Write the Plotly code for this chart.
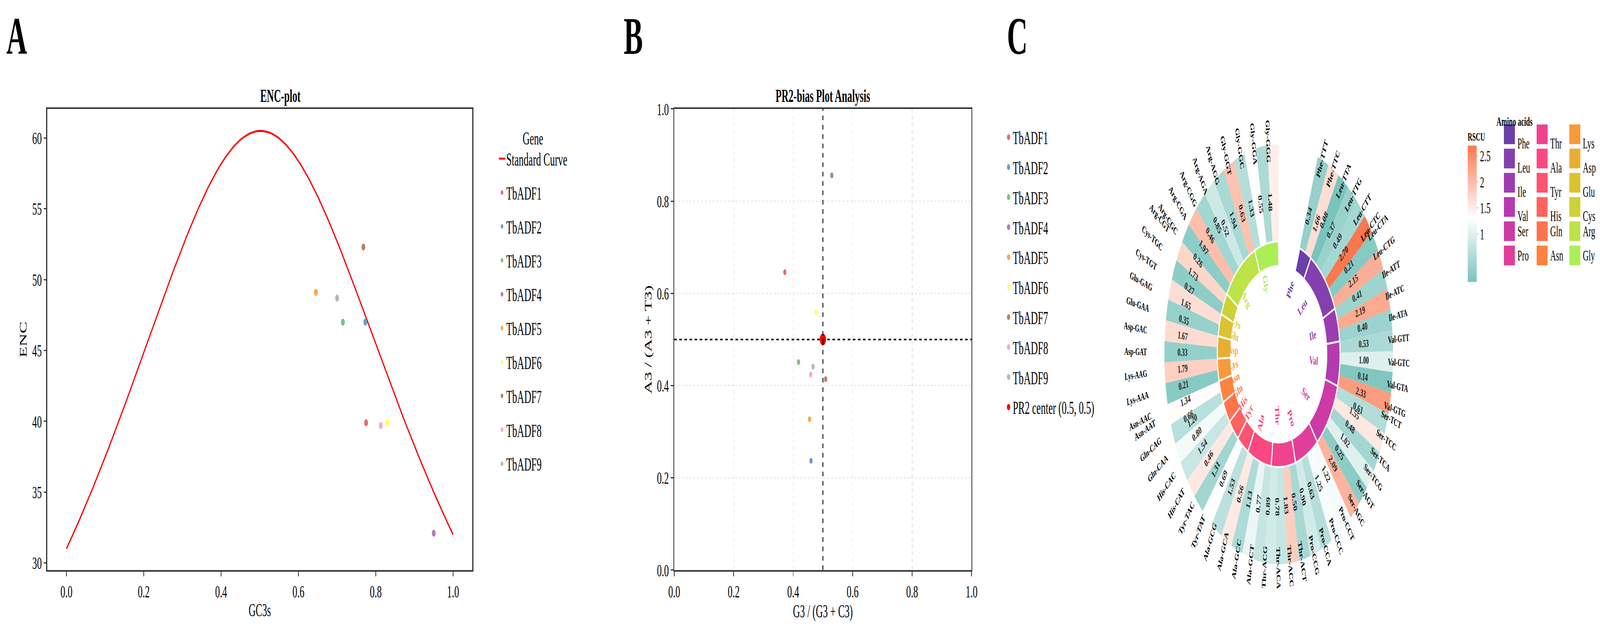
import math
import plotly.graph_objects as go

W, H = 7524, 1639
FONT = "Liberation Serif"

# ---------------- panel A data (ENC-plot) ----------------
genes = ["TbADF1", "TbADF2", "TbADF3", "TbADF4", "TbADF5", "TbADF6", "TbADF7", "TbADF8", "TbADF9"]
gene_colors = ["#e9585a", "#5b93c7", "#6cbd6a", "#a66db5", "#ff9a36", "#ffff55", "#b4734f", "#f79ccd", "#adadad"]
gc3s = [0.775, 0.773, 0.715, 0.950, 0.645, 0.830, 0.768, 0.813, 0.700]
enc = [39.9, 47.0, 47.0, 32.1, 49.1, 39.9, 52.3, 39.7, 48.7]

# expected ENC curve: ENC = 2 + s + 29 / (s^2 + (1-s)^2)
curve_s = [i / 200 for i in range(201)]
curve_enc = [2 + s + 29 / (s ** 2 + (1 - s) ** 2) for s in curve_s]

# ---------------- panel B data (PR2) ----------------
pr2_x = [0.372, 0.460, 0.418, 0.530, 0.455, 0.477, 0.509, 0.459, 0.467]
pr2_y = [0.646, 0.237, 0.451, 0.856, 0.327, 0.559, 0.414, 0.424, 0.441]

# ---------------- panel C data (RSCU) ----------------
codons = ["Phe-TTT", "Phe-TTC", "Leu-TTA", "Leu-TTG", "Leu-CTT", "Leu-CTC", "Leu-CTA", "Leu-CTG",
          "Ile-ATT", "Ile-ATC", "Ile-ATA", "Val-GTT", "Val-GTC", "Val-GTA", "Val-GTG",
          "Ser-TCT", "Ser-TCC", "Ser-TCA", "Ser-TCG", "Ser-AGT", "Ser-AGC",
          "Pro-CCT", "Pro-CCC", "Pro-CCA", "Pro-CCG", "Thr-ACT", "Thr-ACC", "Thr-ACA", "Thr-ACG",
          "Ala-GCT", "Ala-GCC", "Ala-GCA", "Ala-GCG", "Tyr-TAT", "Tyr-TAC", "His-CAT", "His-CAC",
          "Gln-CAA", "Gln-CAG", "Asn-AAT", "Asn-AAC", "Lys-AAA", "Lys-AAG", "Asp-GAT", "Asp-GAC",
          "Glu-GAA", "Glu-GAG", "Cys-TGT", "Cys-TGC", "Arg-CGT", "Arg-CGC", "Arg-CGA", "Arg-CGG",
          "Arg-AGA", "Arg-AGG", "Gly-GGT", "Gly-GGC", "Gly-GGA", "Gly-GGG"]
rscu = [0.34, 1.66, 0.08, 0.37, 0.49, 2.70, 0.21, 2.15,
        0.41, 2.19, 0.40, 0.53, 1.00, 0.14, 2.33,
        0.61, 1.55, 0.48, 1.02, 0.25, 2.09,
        1.22, 1.25, 0.63, 0.90, 0.50, 1.83, 0.78, 0.89,
        0.77, 1.13, 0.56, 1.53, 0.69, 1.31, 0.46, 1.54,
        0.80, 1.20, 0.66, 1.34, 0.21, 1.79, 0.33, 1.67,
        0.35, 1.65, 0.27, 1.73, 0.26, 1.97, 0.46, 0.85,
        0.52, 1.94, 0.63, 1.33, 0.55, 1.48]
amino_acids = ["Phe", "Leu", "Ile", "Val", "Ser", "Pro", "Thr", "Ala", "Tyr",
               "His", "Gln", "Asn", "Lys", "Asp", "Glu", "Cys", "Arg", "Gly"]
aa_colors = ["#6a3fa8", "#8540b0", "#9d3cb1", "#b53ab1", "#cc3aa6", "#e03e9a", "#f0428d", "#fb4881", "#ff5470",
             "#ff6260", "#ff734c", "#ff8240", "#f8993a", "#eaad32", "#dcc130", "#cdd136", "#bde346", "#abef57"]

fig = go.Figure()

# ---- A ----
fig.add_trace(go.Scatter(x=curve_s, y=curve_enc, mode="lines", line=dict(color="red", width=5),
                         name="Standard Curve", xaxis="x", yaxis="y", legend="legend", legendgroup="sc"))
for g, c, xv, yv in zip(genes, gene_colors, gc3s, enc):
    fig.add_trace(go.Scatter(x=[xv], y=[yv], mode="markers", marker=dict(color=c, size=18, opacity=0.9),
                             name=g, xaxis="x", yaxis="y", legend="legend", legendgroup="a" + g))

# ---- B ----
for g, c, xv, yv in zip(genes, gene_colors, pr2_x, pr2_y):
    fig.add_trace(go.Scatter(x=[xv], y=[yv], mode="markers", marker=dict(color=c, size=15, opacity=0.9),
                             name=g, xaxis="x2", yaxis="y2", legend="legend2", legendgroup="b" + g))
fig.add_trace(go.Scatter(x=[0.5], y=[0.5], mode="markers", marker=dict(color="red", size=30),
                         name="PR2 center (0.5, 0.5)", xaxis="x2", yaxis="y2", legend="legend2", legendgroup="bc"))

# ---- C ----
cx, cy = 6030, 911
r_in0, r_in1, r_out = 233, 298, 555
start, step = 20.0, 340.0 / len(codons)
thetas = [start + (i + 0.5) * step for i in range(len(codons))]

fig.add_trace(go.Barpolar(
    r=[r_out - r_in1] * len(codons), base=r_in1, theta=thetas, width=[step] * len(codons),
    marker=dict(color=rscu, cmin=0.08, cmax=2.70,
                colorscale=[[0, "#79c4bd"], [0.47, "#ffffff"], [1, "#fa7850"]],
                line=dict(width=0),
                colorbar=dict(x=6915 / W, xanchor="left", y=1 - 310 / H, yanchor="top",
                              len=420 / H, thickness=42, outlinewidth=0,
                              tickvals=[1, 1.5, 2, 2.5], ticktext=["1", "1.5", "2", "2.5"],
                              ticks="outside", ticklen=8, tickfont=dict(size=40, family=FONT),
                              title=dict(text="<b>RSCU</b>", side="top", font=dict(size=30, family=FONT)))),
    showlegend=False, subplot="polar"))

aa_theta, aa_width = [], []
for aa in amino_acids:
    idx = [i for i, cd in enumerate(codons) if cd.startswith(aa)]
    aa_theta.append(start + (idx[0] + len(idx) / 2) * step)
    aa_width.append(len(idx) * step)
fig.add_trace(go.Barpolar(
    r=[r_in1 - r_in0] * len(amino_acids), base=r_in0, theta=aa_theta, width=aa_width,
    marker=dict(color=aa_colors, line=dict(color="white", width=5)),
    showlegend=False, subplot="polar"))


def to_paper(r, th):
    a = math.radians(th)
    return (cx + r * math.sin(a)) / W, 1 - (cy - r * math.cos(a)) / H


def radial_angle(th):
    return th - 90 if th < 180 else th - 270


annotations = []
for cd, v, th in zip(codons, rscu, thetas):
    x, y = to_paper(r_out + 68, th)
    annotations.append(dict(x=x, y=y, xref="paper", yref="paper", text="<b>%s</b>" % cd, showarrow=False,
                            textangle=radial_angle(th), font=dict(size=26, family=FONT, color="black")))
    x, y = to_paper(430, th)
    annotations.append(dict(x=x, y=y, xref="paper", yref="paper", text="<b>%.2f</b>" % v, showarrow=False,
                            textangle=radial_angle(th), font=dict(size=27, family=FONT, color="#222")))
for aa, c, th in zip(amino_acids, aa_colors, aa_theta):
    x, y = to_paper(190, th)
    annotations.append(dict(x=x, y=y, xref="paper", yref="paper", text="<b>%s</b>" % aa, showarrow=False,
                            textangle=radial_angle(th), font=dict(size=29, family=FONT, color=c)))

# amino acid legend (3 columns x 6 rows)
shapes = []
annotations.append(dict(x=7060 / W, y=1 - 275 / H, xref="paper", yref="paper", xanchor="left",
                        text="<b>Amino acids</b>", showarrow=False, font=dict(size=32, family=FONT)))
for k, (aa, c) in enumerate(zip(amino_acids, aa_colors)):
    col, row = k // 6, k % 6
    x0 = 7097 + col * 155
    yc = 330 + row * 64
    shapes.append(dict(type="rect", xref="paper", yref="paper", x0=x0 / W, x1=(x0 + 52) / W,
                       y0=1 - (yc - 26) / H, y1=1 - (yc + 26) / H, fillcolor=c, line=dict(width=0)))
    annotations.append(dict(x=(x0 + 62) / W, y=1 - yc / H, xref="paper", yref="paper", xanchor="left",
                            text=aa, showarrow=False, font=dict(size=38, family=FONT)))

# panel letters and titles
for letter, px in [("A", 0), ("B", 2925), ("C", 4740)]:
    annotations.append(dict(x=px / W, y=1 + 8 / H, xref="paper", yref="paper", xanchor="left", yanchor="top",
                            text="<b>%s</b>" % letter, showarrow=False, font=dict(size=135, family=FONT)))
annotations.append(dict(x=(195 + 2210) / 2 / W, y=1 - 200 / H, xref="paper", yref="paper",
                        text="<b>ENC-plot</b>", showarrow=False, font=dict(size=46, family=FONT)))
annotations.append(dict(x=(3166 + 4575) / 2 / W, y=1 - 200 / H, xref="paper", yref="paper",
                        text="<b>PR2-bias Plot Analysis</b>", showarrow=False, font=dict(size=46, family=FONT)))

# PR2 reference lines
shapes.append(dict(type="line", xref="x2", yref="y2", x0=0.5, x1=0.5, y0=0, y1=1,
                   line=dict(color="black", width=4, dash="dash")))
shapes.append(dict(type="line", xref="x2", yref="y2", x0=0, x1=1, y0=0.5, y1=0.5,
                   line=dict(color="black", width=4, dash="dash")))

ax_common = dict(showline=True, mirror=True, linecolor="#333", linewidth=4, ticks="outside", ticklen=12,
                 tickwidth=3, tickcolor="#333", tickfont=dict(size=45, family=FONT), zeroline=False)

fig.update_layout(
    width=W, height=H, autosize=False, margin=dict(l=0, r=0, t=0, b=0),
    plot_bgcolor="white", paper_bgcolor="white",
    font=dict(family=FONT, color="black"),
    xaxis=dict(domain=[195 / W, 2210 / W], range=[-0.05, 1.05], tickvals=[0, 0.2, 0.4, 0.6, 0.8, 1.0],
               ticktext=["0.0", "0.2", "0.4", "0.6", "0.8", "1.0"], showgrid=False,
               title=dict(text="GC3s", font=dict(size=46), standoff=8), anchor="y", **ax_common),
    yaxis=dict(domain=[1 - 1481 / H, 1 - 263 / H], range=[29.5, 62.05], dtick=5, showgrid=False,
               title=dict(text="ENC", font=dict(size=46), standoff=12), anchor="x", **ax_common),
    xaxis2=dict(domain=[3166 / W, 4575 / W], range=[0, 1], dtick=0.2, tickformat=".1f",
                showgrid=True, gridcolor="#dddddd", griddash="dash", gridwidth=2,
                title=dict(text="G3 / (G3 + C3)", font=dict(size=46), standoff=8), anchor="y2", **ax_common),
    yaxis2=dict(domain=[1 - 1481 / H, 1 - 263 / H], range=[0, 1], dtick=0.2, tickformat=".1f",
                showgrid=True, gridcolor="#dddddd", griddash="dash", gridwidth=2,
                title=dict(text="A3 / (A3 + T3)", font=dict(size=46), standoff=12), anchor="x2", **ax_common),
    legend=dict(x=2330 / W, y=1 - 295 / H, xanchor="left", yanchor="top", tracegroupgap=24,
                title=dict(text="          Gene", font=dict(size=46)), font=dict(size=46), itemsizing="constant",
                bgcolor="rgba(0,0,0,0)"),
    legend2=dict(x=4730 / W, y=1 - 300 / H, xanchor="left", yanchor="top", tracegroupgap=14,
                 font=dict(size=46), itemsizing="trace", bgcolor="rgba(0,0,0,0)"),
    polar=dict(domain=dict(x=[(cx - r_out) / W, (cx + r_out) / W], y=[1 - (cy + r_out) / H, 1 - (cy - r_out) / H]),
               bgcolor="white", barmode="overlay",
               radialaxis=dict(range=[0, r_out], visible=False),
               angularaxis=dict(rotation=90, direction="clockwise", visible=False)),
    annotations=annotations, shapes=shapes,
)

# stretch the fixed 7524x1639 figure so it fills the whole browser window
fit_js = """
document.body.style.margin = '0';
document.body.style.overflow = 'hidden';
var d = document.getElementById('{plot_id}');
var sx = window.innerWidth / %d, sy = window.innerHeight / %d;
d.style.transformOrigin = '0 0';
d.style.transform = 'scale(' + sx + ',' + sy + ')';
""" % (W, H)

fig.write_html("out.html", post_script=fit_js, config={"displayModeBar": False})
